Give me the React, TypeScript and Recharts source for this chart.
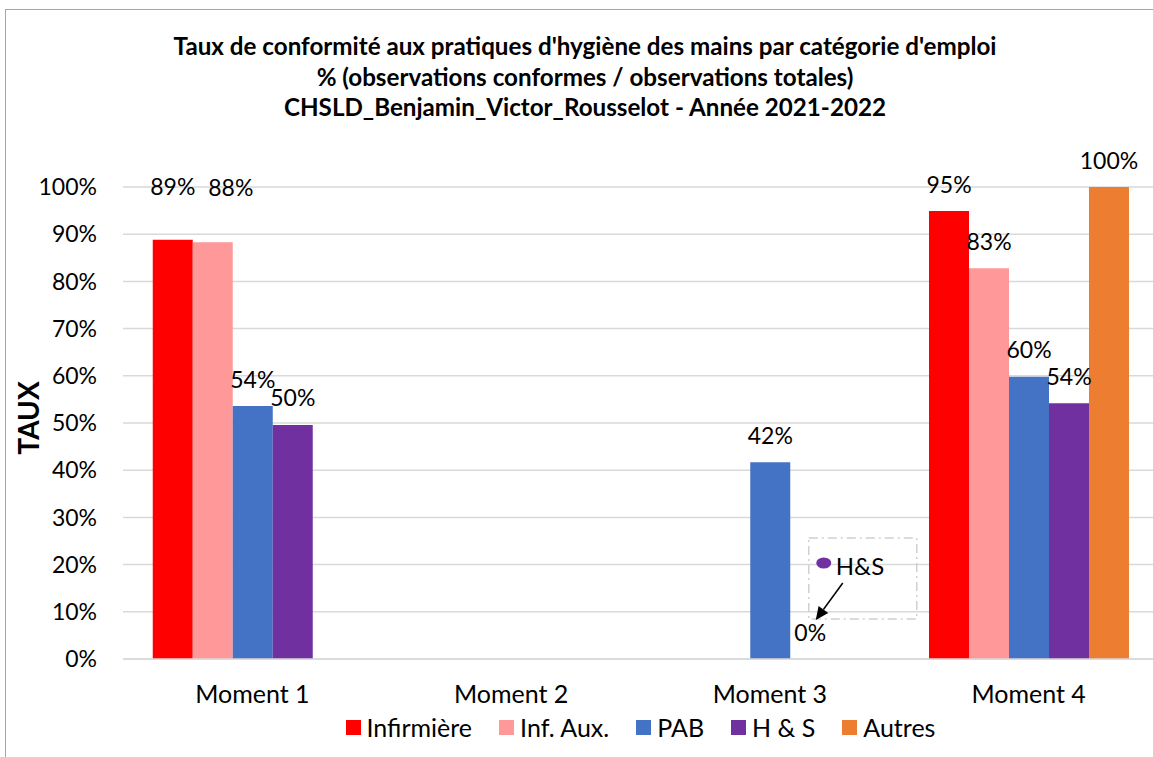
import React from 'react';
import { BarChart, Bar, XAxis, YAxis, CartesianGrid, LabelList } from 'recharts';

const categories = ['Moment 1', 'Moment 2', 'Moment 3', 'Moment 4'];
const infirmiere = [88.8, null, null, 94.9];
const infAux = [88.3, null, null, 82.8];
const pab = [53.6, null, 41.7, 59.8];
const hs = [49.6, null, 0, 54.2];
const autres = [null, null, null, 100];
const yTicks = [0, 10, 20, 30, 40, 50, 60, 70, 80, 90, 100];
const seriesNames = ['Infirmière', 'Inf. Aux.', 'PAB', 'H & S', 'Autres'];
const seriesColors = ['#FF0000', '#FF9999', '#4472C4', '#7030A0', '#ED7D31'];
const titleLines = [
  "Taux de conformité aux pratiques d'hygiène des mains par catégorie d'emploi",
  '% (observations conformes / observations totales)',
  'CHSLD_Benjamin_Victor_Rousselot - Année 2021-2022',
];
const yAxisTitle = 'TAUX';
const calloutText = 'H&S';

const seriesKeys = ['inf', 'aux', 'pab', 'hs', 'autres'];
const seriesValues = [infirmiere, infAux, pab, hs, autres];

const data = categories.map((c, i) => {
  const row: any = { category: c };
  seriesKeys.forEach((k, s) => {
    row[k] = seriesValues[s][i];
  });
  return row;
});

const FONT = 'Lato, "Noto Sans", sans-serif';
const FS_NUM = 23;
const FS_TXT = 25;

const makeLabel = (seriesKey: string) => (props: any) => {
  const { x, y, width, value, index } = props;
  if (value === null || value === undefined) return null;
  const cx = Number(x) + Number(width) / 2;
  let dx = 0;
  let dy = 0;
  if (seriesKey === 'inf' && index === 0) dy = -26;
  if (seriesKey === 'aux' && index === 0) {
    dy = -28;
    dx = 18;
  }
  const by = Number(y) - 18.5 + dy;
  const text = (
    <text
      x={cx + dx}
      y={by}
      textAnchor="middle"
      fontFamily={FONT}
      fontSize={FS_NUM}
      fill="#000"
    >
      {Math.round(Number(value))}%
    </text>
  );
  if (seriesKey === 'hs' && Number(value) === 0) {
    const bx = cx;
    const byy = Number(y) + Number(props.height || 0);
    const sx = bx + 32.5;
    const sy = byy - 76;
    const ex = bx + 5.5;
    const ey = byy - 39;
    const vx = ex - sx;
    const vy = ey - sy;
    const len = Math.sqrt(vx * vx + vy * vy);
    const ux = vx / len;
    const uy = vy / len;
    const hl = 13;
    const hw = 6;
    const baseX = ex - ux * hl;
    const baseY = ey - uy * hl;
    const p1 = `${ex},${ey}`;
    const p2 = `${baseX - uy * hw},${baseY + ux * hw}`;
    const p3 = `${baseX + uy * hw},${baseY - ux * hw}`;
    return (
      <g>
        <rect
          x={bx - 1.5}
          y={byy - 121}
          width={108}
          height={81}
          fill="none"
          stroke="#D0D0D0"
          strokeWidth={1.5}
          strokeDasharray="9 4 2 4"
        />
        <ellipse cx={bx + 13.5} cy={byy - 96} rx={7.5} ry={5.5} fill="#7030A0" />
        <text x={bx + 25.5} y={byy - 84} fontFamily={FONT} fontSize={24} fill="#000">
          {calloutText}
        </text>
        <line x1={sx} y1={sy} x2={baseX} y2={baseY} stroke="#000" strokeWidth={1.5} />
        <polygon points={`${p1} ${p2} ${p3}`} fill="#000" />
        <text
          x={cx}
          y={byy - 18.5}
          textAnchor="middle"
          fontFamily={FONT}
          fontSize={FS_NUM}
          fill="#000"
        >
          {Math.round(Number(value))}%
        </text>
      </g>
    );
  }
  return text;
};

const YLabel = (props: any) => {
  const vb = props.viewBox || {};
  const cx = 22.5;
  const cy = Number(vb.y) + Number(vb.height) / 2 - 5;
  return (
    <text
      x={cx}
      y={cy}
      transform={`rotate(-90, ${cx}, ${cy})`}
      textAnchor="middle"
      dominantBaseline="central"
      fontFamily={FONT}
      fontWeight="bold"
      fontSize={28}
      fill="#000"
    >
      {yAxisTitle}
    </text>
  );
};

export default function App() {
  return (
    <div
      style={{
        position: 'absolute',
        left: 0,
        top: 0,
        width: 1153,
        height: 757,
        overflow: 'hidden',
        background: '#fff',
      }}
    >
      <div
        style={{
          position: 'absolute',
          left: 5,
          top: 9,
          width: 1160,
          height: 760,
          borderLeft: '1.5px solid #A6A6A6',
          borderTop: '1.5px solid #A6A6A6',
          boxSizing: 'border-box',
        }}
      />
      <div style={{ position: 'absolute', left: 5, top: 9, width: 1160, height: 760 }}>
        <BarChart
          width={1160}
          height={760}
          data={data}
          margin={{ top: 178, right: 7, bottom: 70, left: 58 }}
          barCategoryGap="11.5%"
          barGap={0}
        >
          <CartesianGrid vertical={false} stroke="#D9D9D9" strokeWidth={1.5} />
          <XAxis
            dataKey="category"
            height={40}
            tickLine={false}
            tickSize={0}
            tickMargin={26}
            axisLine={{ stroke: '#D9D9D9', strokeWidth: 1.5 }}
            tick={{ fontFamily: FONT, fontSize: FS_TXT, fill: '#000' }}
          />
          <YAxis
            width={60}
            domain={[0, 100]}
            ticks={yTicks}
            interval={0}
            tickFormatter={(v: number) => `${v}%`}
            tickLine={false}
            axisLine={false}
            tickSize={0}
            tickMargin={26}
            tick={{ fontFamily: FONT, fontSize: FS_NUM, fill: '#000' }}
            label={<YLabel />}
          />
          {seriesKeys.map((k, s) => (
            <Bar
              key={k}
              dataKey={k}
              name={seriesNames[s]}
              fill={seriesColors[s]}
              isAnimationActive={false}
              minPointSize={k === 'hs' ? ((v: any) => (v === 0 ? 0.01 : 0)) as any : 0}
            >
              <LabelList dataKey={k} content={makeLabel(k)} />
            </Bar>
          ))}
        </BarChart>
      </div>
      <svg
        width={1153}
        height={130}
        style={{ position: 'absolute', left: 0, top: 0 }}
      >
        {titleLines.map((t, i) => (
          <text
            key={t}
            x={585}
            y={55 + i * 30.5}
            textAnchor="middle"
            fontFamily={FONT}
            fontWeight="bold"
            fontSize={24.2}
            fill="#000"
          >
            {t}
          </text>
        ))}
      </svg>
      <div
        style={{
          position: 'absolute',
          left: 123,
          width: 1035,
          top: 712,
          height: 30,
          display: 'flex',
          justifyContent: 'center',
          alignItems: 'center',
          fontFamily: FONT,
          fontSize: FS_TXT,
          color: '#000',
        }}
      >
        {seriesNames.map((n, s) => (
          <div key={n} style={{ display: 'flex', alignItems: 'center', marginRight: s < 4 ? 27 : 0 }}>
            <div style={{ width: 15, height: 15, background: seriesColors[s], marginRight: 6 }} />
            <span>{n}</span>
          </div>
        ))}
      </div>
    </div>
  );
}
